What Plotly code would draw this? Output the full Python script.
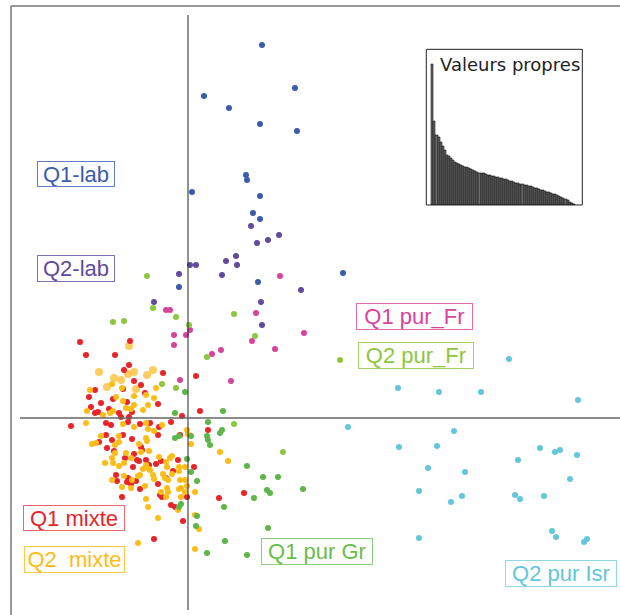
import plotly.graph_objects as go

# ---- ACP : coordonnees des individus (axe 1, axe 2) par groupe ----
q1_lab_x = [0.74, 1.07, 0.16, 0.41, 0.72, 1.09, 0.58, 0.59, 0.04, 0.72, 0.65, 0.72, 1.55, -0.09, 0.70]
q1_lab_y = [3.73, 3.30, 3.22, 3.10, 2.94, 2.87, 2.43, 2.38, 2.26, 2.22, 2.05, 1.99, 1.45, 1.31, 1.36]

q2_lab_x = [0.63, 0.91, 0.80, 0.69, 0.48, 0.38, 0.49, 0.02, 0.08, -0.09, 0.34, 1.13, -0.34, 0.73, 0.74]
q2_lab_y = [1.92, 1.83, 1.78, 1.75, 1.62, 1.57, 1.53, 1.53, 1.53, 1.44, 1.43, 1.28, 1.16, 1.16, 0.93]

q1_fr_x = [0.92, -0.22, -0.18, 0.68, -0.14, 0.02, -0.02, -0.14, 1.16, 0.64, 0.33, 0.24, 0.87, 0.43, -0.08]
q1_fr_y = [1.42, 1.08, 1.08, 1.05, 0.83, 0.88, 0.83, 0.73, 0.85, 0.77, 0.68, 0.64, 0.69, 0.37, 0.38]

q2_fr_x = [-0.41, -0.35, -0.75, -0.64, -0.12, 0.01, 0.46, 0.67, 0.19, 1.52, -0.26, -0.12, 0.46, 0.95]
q2_fr_y = [1.42, 1.10, 0.96, 0.97, 1.01, 0.93, 1.04, 0.82, 0.61, 0.58, 0.34, 0.30, -0.06, -0.34]

q1_gr_x = [-0.03, 0.35, -0.13, 0.20, 0.34, 0.32, -0.09, -0.13, 0.03, 0.19, 0.20, 0.22, -0.01, 0.59, 0.03,
           0.09, 0.75, 0.90, 0.79, 0.82, 1.15, 0.66, -0.07, -0.09, 0.36, 0.09, 0.08, 0.80, 0.37, 0.19, 0.59]
q1_gr_y = [0.26, 0.07, 0.05, -0.04, -0.12, -0.15, -0.18, -0.20, -0.18, -0.18, -0.22, -0.27, -0.41, -0.48, -0.54,
           -0.63, -0.59, -0.59, -0.72, -0.75, -0.71, -0.80, -0.86, -0.89, -0.89, -0.98, -1.08, -1.10, -1.23, -1.35, -1.37]

q2_isr_x = [3.21, 2.10, 2.51, 2.93, 3.90, 1.60, 2.66, 2.11, 2.49, 3.52, 3.67, 3.72, 3.89, 3.30,
            2.40, 2.77, 3.82, 2.31, 2.74, 2.63, 3.27, 3.32, 3.56, 3.64, 3.68, 2.31, 3.96, 3.99]
q2_isr_y = [0.59, 0.30, 0.26, 0.26, 0.18, -0.09, -0.13, -0.29, -0.28, -0.30, -0.34, -0.32, -0.37, -0.42,
            -0.50, -0.54, -0.61, -0.73, -0.78, -0.84, -0.77, -0.81, -0.78, -1.13, -1.19, -1.20, -1.24, -1.21]

q1_mix_x = [-1.08, -1.02, -0.58, -0.73, -0.59, -0.64, -0.25, -0.54, -0.47, -0.93, -0.65, -0.99, -0.43, -0.75,
            -0.87, -0.61, -0.30, -0.97, -0.79, -0.69, -0.93, -0.90, -0.56, -0.59, -0.06, 0.12, 0.08, -0.67,
            -1.17, -0.82, -0.77, -0.60, -0.48, -0.38, -0.29, -0.17, -0.30, -0.82, -0.89, -0.76, -0.65, -0.56,
            -0.47, -0.46, -0.74, -0.81, -0.54, -0.63, -0.51, -0.49, -0.42, -0.32, -0.27, -0.10, -0.15, 0.06,
            -0.55, -0.39, -0.72, -0.71, -0.60, -0.52, -0.57, -0.61, -0.48, -0.30, -0.22, -0.66, -0.28, -0.26,
            -0.01, -0.17, -0.13, -0.05, -0.34, 0.20, -0.08, 0.31, 0.56]
q1_mix_y = [0.76, 0.63, 0.77, 0.63, 0.53, 0.48, 0.45, 0.37, 0.33, 0.28, 0.29, 0.21, 0.25, 0.19,
            0.15, 0.16, 0.14, 0.11, 0.09, 0.05, 0.05, 0.06, 0.06, 0.01, 0.02, 0.07, 0.42, 0.01,
            -0.08, -0.05, -0.07, -0.04, -0.06, -0.05, -0.09, -0.04, -0.17, -0.17, -0.24, -0.22, -0.17, -0.21,
            -0.29, -0.32, -0.33, -0.30, -0.36, -0.40, -0.42, -0.43, -0.42, -0.46, -0.43, -0.42, -0.53, -0.49,
            -0.49, -0.47, -0.57, -0.63, -0.60, -0.63, -0.66, -0.64, -0.71, -0.66, -0.60, -0.79, -0.77, -0.79,
            -0.79, -0.87, -0.89, -1.03, -1.21, -0.12, -0.17, -0.80, -0.75]

q2_mix_x = [-0.76, -0.66, -0.98, -0.32, -0.72, -0.42, -0.34, -0.54, -0.65, -0.40, -1.01, -0.54, -0.45, -0.75,
            -0.85, -0.62, -0.57, -0.78, -1.02, -0.65, -0.54, -0.42, -0.40, -0.34, -0.26, 0.00, -0.01, 0.03,
            -0.96, -0.92, -0.87, -0.69, -0.73, -0.69, -0.49, -0.41, -0.42, -0.73, -0.76, -0.62, -0.57, -0.47,
            -0.39, -0.29, -0.22, -0.18, -0.16, -0.09, -0.03, -0.83, -0.75, -0.69, -0.64, -0.42, -0.39, -0.38,
            -0.45, -0.21, -0.16, -0.09, -0.35, -0.25, -0.23, -0.20, -0.48, -0.50, -0.76, -0.64, -0.56, -0.57,
            -0.66, -0.43, -0.34, -0.08, -0.03, -0.07, -0.09, -0.21, -0.20, -0.27, -0.42, -0.40, -0.22, -0.07,
            -0.03, 0.07, 0.07, 0.11, -0.30, -0.10, -0.50, 0.07, 0.32, 0.40, -0.01]
q2_mix_y = [0.34, 0.30, 0.28, 0.30, 0.21, 0.23, 0.20, 0.22, 0.17, 0.13, 0.07, 0.13, 0.08, 0.07,
            0.03, 0.10, 0.09, 0.05, -0.05, -0.06, -0.09, -0.05, -0.11, -0.13, -0.07, -0.16, -0.12, -0.26,
            -0.26, -0.25, -0.18, -0.18, -0.27, -0.24, -0.26, -0.23, -0.20, -0.35, -0.40, -0.35, -0.40, -0.34,
            -0.33, -0.39, -0.44, -0.40, -0.38, -0.49, -0.49, -0.45, -0.45, -0.48, -0.45, -0.47, -0.51, -0.52,
            -0.51, -0.49, -0.56, -0.53, -0.57, -0.56, -0.60, -0.62, -0.57, -0.58, -0.62, -0.58, -0.62, -0.70,
            -0.69, -0.68, -0.61, -0.62, -0.62, -0.70, -0.71, -0.70, -0.74, -0.74, -0.81, -0.89, -0.79, -0.79,
            -0.74, -0.74, -0.97, -1.11, -1.00, -0.92, -1.25, -1.31, -0.34, -0.43, -0.68]

# individus du groupe Q2 mixte dessines en plus gros (superposes)
q2_mix_big_x = [-0.59, -0.89, -0.35, -0.41, -0.54, -0.60, -0.74, -0.67, -0.81, -0.52]
q2_mix_big_y = [0.72, 0.46, 0.48, 0.43, 0.46, 0.44, 0.40, 0.38, 0.31, 0.29]

# ---- valeurs propres (encart) ----
valeurs_propres = [14.1, 8.33, 6.93, 6.77, 6.27, 5.83, 5.43, 4.93, 4.83, 4.70,
                   4.43, 4.27, 4.13, 4.03, 3.93, 3.87, 3.80, 3.73, 3.67, 3.57,
                   3.43, 3.33, 3.27, 3.20, 3.17, 3.13, 3.07, 3.00, 2.97, 2.90,
                   2.87, 2.80, 2.77, 2.70, 2.67, 2.60, 2.53, 2.47, 2.40, 2.33,
                   2.27, 2.20, 2.17, 2.10, 2.07, 2.00, 1.93, 1.87, 1.83, 1.77,
                   1.70, 1.63, 1.57, 1.50, 1.43, 1.37, 1.30, 1.23, 1.17, 1.10,
                   1.03, 0.93, 0.87, 0.77, 0.67, 0.57, 0.43, 0.30, 0.17, 0.10]
rangs = list(range(1, len(valeurs_propres) + 1))

groups = [
    # (x, y, couleur, taille, opacite)
    (q2_mix_big_x, q2_mix_big_y, "#fdbb2a", 8, 0.75),
    (q1_mix_x, q1_mix_y, "#e8242a", 6, 1),
    (q2_mix_x, q2_mix_y, "#fdbc16", 6, 1),
    (q2_isr_x, q2_isr_y, "#62c6dc", 6, 1),
    (q1_lab_x, q1_lab_y, "#3a5cac", 6, 1),
    (q2_lab_x, q2_lab_y, "#5f4a9e", 6, 1),
    (q1_fr_x, q1_fr_y, "#d8449b", 6, 1),
    (q2_fr_x, q2_fr_y, "#8dc63f", 6, 1),
    (q1_gr_x, q1_gr_y, "#5db648", 6, 1),
]

labels = [
    # texte, x, y, largeur, hauteur, couleur, bordure
    ("Q1-lab", -1.12, 2.44, 78, 26, "#3a5cac", "rgba(58,92,172,0.8)"),
    ("Q2-lab", -1.12, 1.495, 78, 27, "#5f4a9e", "rgba(95,74,158,0.8)"),
    ("Q1 pur_Fr", 2.26, 1.013, 117, 27, "#d8449b", "rgba(216,68,155,0.8)"),
    ("Q2 pur_Fr", 2.278, 0.63, 116, 27, "#8dc63f", "rgba(141,198,63,0.8)"),
    ("Q1 mixte", -1.145, -0.998, 102, 26, "#e8242a", "rgba(232,36,42,0.7)"),
    ("Q2\u00a0 mixte", -1.14, -1.41, 101, 27, "#fdbc16", "rgba(253,188,22,0.8)"),
    ("Q1 pur Gr", 1.285, -1.33, 112, 27, "#6abd4b", "rgba(93,182,72,0.7)"),
    ("Q2 pur Isr", 3.732, -1.557, 112, 27, "#62c6dc", "rgba(98,198,220,0.7)"),
]

fig = go.Figure()

for gx, gy, col, size, op in groups:
    fig.add_trace(go.Scatter(
        x=gx, y=gy, mode="markers",
        marker=dict(color=col, size=size, opacity=op, line=dict(width=0)),
        hoverinfo="skip", showlegend=False,
    ))

fig.add_trace(go.Bar(
    x=rangs, y=valeurs_propres, xaxis="x2", yaxis="y2",
    marker=dict(color="#6a6a6a", line=dict(color="#111111", width=0.6)),
    hoverinfo="skip", showlegend=False,
))

shapes = [
    # cadre general (seuls les bords gauche et haut sont dans l'image)
    dict(type="line", xref="x", yref="y", x0=-1.77, x1=-1.77, y0=4.12, y1=-1.97,
         line=dict(color="#777777", width=1.5), layer="below"),
    dict(type="line", xref="x", yref="y", x0=-1.77, x1=4.32, y0=4.12, y1=4.12,
         line=dict(color="#777777", width=1.5), layer="below"),
    # axes de l'ACP
    dict(type="line", xref="x", yref="y", x0=0, x1=0, y0=4.03, y1=-1.92,
         line=dict(color="#222222", width=1)),
    dict(type="line", xref="x", yref="y", x0=-1.68, x1=4.32, y0=0, y1=0,
         line=dict(color="#666666", width=1.3)),
    # cadre de l'encart
    dict(type="rect", xref="x2 domain", yref="y2 domain", x0=0, x1=1, y0=0, y1=1,
         line=dict(color="#222222", width=1)),
]

annotations = []
for txt, ax, ay, w, h, col, bcol in labels:
    annotations.append(dict(
        text=txt, x=ax, y=ay, xref="x", yref="y", showarrow=False,
        width=w - 2, height=h - 2, align="center", valign="middle",
        bordercolor=bcol, borderwidth=1, borderpad=0, bgcolor="white",
        font=dict(family="Liberation Sans, Arial, sans-serif", size=22, color=col),
    ))
annotations.append(dict(
    text="Valeurs propres", xref="x2 domain", yref="y2 domain", x=0.075, y=0.905,
    xanchor="left", yanchor="middle", showarrow=False,
    font=dict(family="DejaVu Sans, sans-serif", size=18, color="#222222"),
))

fig.update_layout(
    width=620, height=615,
    margin=dict(l=0, r=0, t=0, b=0),
    paper_bgcolor="white", plot_bgcolor="white",
    xaxis=dict(range=[-1.88, 4.32], visible=False, fixedrange=True, domain=[0, 1]),
    yaxis=dict(range=[-1.97, 4.18], visible=False, fixedrange=True, domain=[0, 1]),
    xaxis2=dict(range=[-2.13, 74.06], visible=False, fixedrange=True,
                domain=[0.6876, 0.9392], anchor="y2"),
    yaxis2=dict(range=[0, 15.57], visible=False, fixedrange=True,
                domain=[0.6667, 0.9198], anchor="x2"),
    bargap=0,
    shapes=shapes,
    annotations=annotations,
)

# la page est photographiee telle quelle : pas de marge autour du graphique
fig.write_html("out.html", config={"displayModeBar": False},
               post_script="document.body.style.margin='0';document.body.style.overflow='hidden';")
